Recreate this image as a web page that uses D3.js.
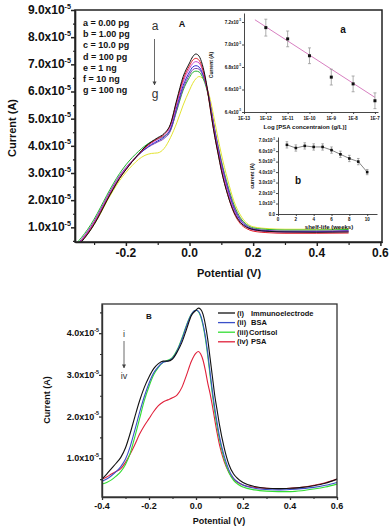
<!DOCTYPE html>
<html><head><meta charset="utf-8">
<script src="https://cdn.jsdelivr.net/npm/d3@7"></script>
<style>body{margin:0;background:#fff}svg{display:block}text{font-family:"Liberation Sans",Arial,sans-serif;fill:#111}</style>
</head><body>
<svg id="c" width="392" height="529"></svg>
<script>
// ---------- DATA (currents in units of 1e-5 A) ----------
const potA = [-0.36,-0.34,-0.32,-0.30,-0.28,-0.26,-0.24,-0.22,-0.20,-0.18,-0.16,-0.14,-0.12,-0.10,-0.08,-0.06,-0.04,-0.02,0.00,0.01,0.02,0.03,0.04,0.05,0.06,0.07,0.08,0.09,0.10,0.12,0.14,0.16,0.18,0.20,0.25,0.30,0.40,0.50];
const curA_a = [0.2,0.46,0.75,1.1,1.52,1.98,2.4,2.8,3.12,3.42,3.7,3.96,4.15,4.3,4.45,4.8,5.7,6.55,7.05,7.28,7.38,7.3,7.0,6.5,5.8,5.0,4.3,3.7,3.1,2.2,1.55,1.18,1.0,0.92,0.85,0.83,0.82,0.83];
const curA_b = [0.2,0.48,0.78,1.13,1.55,2.0,2.42,2.8,3.12,3.42,3.68,3.93,4.12,4.27,4.42,4.78,5.65,6.45,6.95,7.15,7.22,7.15,6.88,6.42,5.76,5.0,4.3,3.7,3.12,2.2,1.52,1.13,0.95,0.86,0.8,0.78,0.78,0.79];
const curA_c = [0.25,0.52,0.82,1.18,1.6,2.05,2.47,2.85,3.17,3.45,3.7,3.93,4.1,4.24,4.38,4.7,5.55,6.35,6.85,7.03,7.1,7.05,6.82,6.42,5.85,5.12,4.42,3.82,3.25,2.32,1.62,1.2,1.0,0.9,0.84,0.82,0.82,0.84];
const curA_d = [0.25,0.5,0.8,1.15,1.58,2.03,2.45,2.83,3.15,3.43,3.67,3.88,4.05,4.18,4.32,4.62,5.45,6.22,6.72,6.9,6.95,6.9,6.7,6.35,5.82,5.15,4.48,3.88,3.32,2.4,1.68,1.25,1.03,0.92,0.86,0.84,0.84,0.86];
const curA_e = [0.3,0.55,0.86,1.22,1.65,2.1,2.52,2.9,3.2,3.46,3.68,3.87,4.02,4.14,4.27,4.55,5.35,6.12,6.62,6.8,6.85,6.82,6.64,6.32,5.85,5.22,4.55,3.95,3.4,2.48,1.75,1.3,1.06,0.95,0.88,0.86,0.86,0.88];
const curA_f = [0.35,0.62,0.93,1.3,1.73,2.18,2.6,2.98,3.3,3.57,3.8,4.0,4.15,4.25,4.35,4.58,5.3,6.05,6.52,6.7,6.75,6.72,6.55,6.25,5.8,5.2,4.55,3.98,3.45,2.55,1.82,1.35,1.1,0.98,0.92,0.9,0.9,0.92];
const curA_g = [0.25,0.48,0.76,1.1,1.5,1.95,2.35,2.72,3.02,3.28,3.5,3.65,3.72,3.74,3.9,4.3,4.85,5.5,6.05,6.3,6.47,6.55,6.5,6.3,5.95,5.45,4.85,4.25,3.7,2.75,1.95,1.45,1.15,1.02,0.95,0.93,0.93,0.95];
const seriesA = [curA_a,curA_b,curA_c,curA_d,curA_e,curA_f,curA_g];
const colorsA = ["#111111","#e0202a","#cc44cc","#2a2ad0","#7a3fb0","#22b030","#e4e430"];
const legendA = ["a = 0.00 pg","b = 1.00 pg","c = 10.0 pg","d = 100 pg","e = 1 ng","f = 10 ng","g = 100 ng"];
const yTicksA = [1,2,3,4,5,6,7,8,9];
const xTicksA = [-0.2,0.0,0.2,0.4,0.6];

// inset a: calibration
const concA = [1e-12,1e-11,1e-10,1e-9,1e-8,1e-7];
const calCur = [7.15,7.05,6.90,6.71,6.65,6.50];
const calErr = [0.075,0.07,0.07,0.07,0.07,0.07];
const fitConc = [Math.pow(10,-12.5),1e-7];
const fitCur = [7.22,6.53];
const insetAYTicks = [6.4,6.6,6.8,7.0,7.2];
const insetAXTicks = [1e-13,1e-12,1e-11,1e-10,1e-9,1e-8,1e-7];
const insetAXLabels = ["1E-13","1E-12","1E-11","1E-10","1E-9","1E-8","1E-7"];

// inset b: shelf life
const weeks = [1,2,3,4,5,6,7,8,9,10];
const shelfCur = [6.6,6.3,6.5,6.4,6.4,6.1,5.7,5.3,5.0,4.0];
const shelfErr = [0.3,0.3,0.3,0.3,0.3,0.3,0.3,0.3,0.3,0.25];
const insetBYTicks = [0,1,2,3,4,5,6,7];
const insetBXTicks = [0,2,4,6,8,10];

// panel B
const potB = [-0.40,-0.38,-0.36,-0.34,-0.32,-0.30,-0.28,-0.26,-0.24,-0.22,-0.20,-0.18,-0.16,-0.14,-0.12,-0.10,-0.08,-0.06,-0.04,-0.02,0.00,0.01,0.02,0.03,0.04,0.05,0.06,0.07,0.08,0.09,0.10,0.12,0.14,0.16,0.18,0.20,0.25,0.30,0.35,0.40,0.45,0.50,0.55,0.60];
const curB_i = [0.5,0.62,0.75,0.88,1.02,1.25,1.6,2.0,2.38,2.7,2.95,3.15,3.27,3.33,3.33,3.38,3.55,3.78,4.1,4.42,4.55,4.6,4.57,4.45,4.2,3.85,3.4,2.95,2.5,2.15,1.8,1.25,0.85,0.62,0.5,0.42,0.32,0.28,0.27,0.28,0.3,0.34,0.4,0.5];
const curB_ii = [0.45,0.5,0.58,0.68,0.8,0.98,1.28,1.68,2.1,2.48,2.8,3.05,3.2,3.3,3.33,3.4,3.58,3.85,4.18,4.45,4.55,4.53,4.42,4.22,3.92,3.52,3.05,2.6,2.2,1.85,1.52,1.05,0.72,0.52,0.42,0.36,0.28,0.25,0.24,0.25,0.27,0.3,0.35,0.42];
const curB_iii = [0.38,0.42,0.48,0.57,0.68,0.85,1.12,1.52,1.95,2.38,2.72,3.0,3.18,3.3,3.35,3.42,3.6,3.88,4.2,4.45,4.55,4.52,4.4,4.18,3.86,3.45,2.98,2.52,2.1,1.75,1.45,0.98,0.66,0.47,0.37,0.31,0.24,0.21,0.2,0.2,0.22,0.26,0.31,0.38];
const curB_iv = [0.5,0.55,0.62,0.68,0.75,0.9,1.1,1.33,1.58,1.78,1.95,2.12,2.26,2.35,2.4,2.45,2.52,2.7,3.0,3.32,3.52,3.56,3.5,3.35,3.1,2.8,2.55,2.25,1.92,1.6,1.32,0.92,0.66,0.5,0.41,0.36,0.3,0.28,0.27,0.28,0.3,0.35,0.41,0.5];
const seriesB = [curB_i,curB_ii,curB_iii,curB_iv];
const colorsB = ["#111111","#3a4fc8","#33dd33","#e0203a"];
const legendRoman = ["(i)","(ii)","(iii)","(iv)"];
const legendNames = ["Immunoelectrode","BSA","Cortisol","PSA"];
const yTicksB = [1,2,3,4];
const xTicksB = [-0.4,-0.2,0.0,0.2,0.4,0.6];

// ---------- DRAW ----------
const svg = d3.select("#c");
const FONT_BOLD = "bold";

function sci(g, x, y, main, fs, anchor) {
  const t = g.append("text").attr("x",x).attr("y",y).attr("text-anchor",anchor||"end")
    .attr("font-size",fs).attr("font-weight",FONT_BOLD);
  t.append("tspan").text(main);
  t.append("tspan").attr("dy",-fs*0.45).attr("font-size",fs*0.6).text("-5");
  return t;
}
function styleAxis(g, w, col) {
  g.selectAll("path.domain").attr("stroke", col||"#222").attr("stroke-width", w);
  g.selectAll(".tick line").attr("stroke", col||"#222").attr("stroke-width", w);
}

// ===== Panel A =====
const xA = d3.scaleLinear().domain([-0.36,0.605]).range([75,382]);
const yA = d3.scaleLinear().domain([0.46,9.0]).range([242,10]);
svg.append("clipPath").attr("id","clipA").append("rect").attr("x",75).attr("y",10).attr("width",307).attr("height",232);

const lineA = d3.line().x((d,i)=>xA(potA[i])).y(d=>yA(d)).curve(d3.curveMonotoneX);
const gA = svg.append("g").attr("clip-path","url(#clipA)");
seriesA.slice().reverse().forEach((s,k)=>{
  const i = seriesA.length-1-k;
  gA.append("path").attr("d",lineA(s)).attr("fill","none").attr("stroke",colorsA[i]).attr("stroke-width",1);
});

// axes A
const axYA = svg.append("g").attr("transform","translate(75,0)")
  .call(d3.axisLeft(yA).tickValues(yTicksA).tickSize(4).tickSizeOuter(0).tickFormat(""));
styleAxis(axYA,1.5);
const axYAm = svg.append("g").attr("transform","translate(75,0)")
  .call(d3.axisLeft(yA).tickValues(d3.range(0.5,9,1)).tickSize(2).tickSizeOuter(0).tickFormat(""));
styleAxis(axYAm,1.2);
const axXA = svg.append("g").attr("transform","translate(0,242)")
  .call(d3.axisBottom(xA).tickValues(xTicksA).tickSize(4).tickSizeOuter(0).tickFormat(""));
styleAxis(axXA,1.5);
const axXAm = svg.append("g").attr("transform","translate(0,242)")
  .call(d3.axisBottom(xA).tickValues([-0.3,-0.1,0.1,0.3,0.5]).tickSize(3).tickSizeOuter(0).tickFormat(""));
styleAxis(axXAm,1.2);
svg.append("rect").attr("x",75).attr("y",10).attr("width",307).attr("height",232)
  .attr("fill","none").attr("stroke","#222").attr("stroke-width",1.5);

yTicksA.forEach(v=>sci(svg,71,yA(v)+4,v.toFixed(1)+"x10",12,"end"));
xTicksA.forEach(v=>svg.append("text").attr("x",xA(v)).attr("y",257).attr("text-anchor","middle")
  .attr("font-size",12).attr("font-weight",FONT_BOLD).text(v.toFixed(1)));
svg.append("text").attr("x",229).attr("y",277).attr("text-anchor","middle").attr("font-size",11)
  .attr("font-weight",FONT_BOLD).text("Potential (V)");
svg.append("text").attr("transform","translate(16,128) rotate(-90)").attr("text-anchor","middle")
  .attr("font-size",11).attr("font-weight",FONT_BOLD).text("Current (A)");

legendA.forEach((t,i)=>svg.append("text").attr("x",83).attr("y",26+i*11.17).attr("font-size",9)
  .attr("font-weight",FONT_BOLD).text(t));
svg.append("text").attr("x",155).attr("y",30).attr("text-anchor","middle").attr("font-size",12).style("fill","#333").text("a");
svg.append("text").attr("x",155).attr("y",98).attr("text-anchor","middle").attr("font-size",12).style("fill","#333").text("g");
const defs = svg.append("defs");
defs.append("marker").attr("id","arr").attr("viewBox","0 0 10 10").attr("refX",9).attr("refY",5)
  .attr("markerWidth",5).attr("markerHeight",6).attr("orient","auto")
  .append("path").attr("d","M0,0L10,5L0,10z").attr("fill","#444");
svg.append("line").attr("x1",154.5).attr("y1",39).attr("x2",154.5).attr("y2",85).attr("stroke","#444")
  .attr("stroke-width",0.8).attr("marker-end","url(#arr)");
svg.append("text").attr("x",182).attr("y",27).attr("text-anchor","middle").attr("font-size",9)
  .attr("font-weight",FONT_BOLD).text("A");

// ===== Inset a =====
const xIa = d3.scaleLog().domain([1e-13,Math.pow(10,-6.86)]).range([244,378]);
const yIa = d3.scaleLinear().domain([6.4,7.28]).range([112,13]);
const axYIa = svg.append("g").attr("transform","translate(244,0)")
  .call(d3.axisLeft(yIa).tickValues(insetAYTicks).tickSize(2).tickSizeOuter(0).tickFormat(""));
styleAxis(axYIa,0.9,"#333");
const axXIa = svg.append("g").attr("transform","translate(0,112)")
  .call(d3.axisBottom(xIa).tickValues(insetAXTicks).tickSize(2).tickSizeOuter(0).tickFormat(""));
styleAxis(axXIa,0.9,"#333");
insetAYTicks.forEach(v=>sci(svg,241,yIa(v)+1.5,v.toFixed(1)+"x10",4.5,"end"));
insetAXTicks.forEach((v,i)=>svg.append("text").attr("x",xIa(v)).attr("y",120).attr("text-anchor","middle")
  .attr("font-size",4.5).attr("font-weight",FONT_BOLD).text(insetAXLabels[i]));
svg.append("text").attr("x",305).attr("y",129).attr("text-anchor","middle").attr("font-size",6)
  .attr("font-weight",FONT_BOLD).text("Log [PSA concentraion (g/L)]");
svg.append("text").attr("transform","translate(213,65) rotate(-90)").attr("text-anchor","middle")
  .attr("font-size",5).attr("font-weight",FONT_BOLD).text("Current (A)");
svg.append("line").attr("x1",xIa(fitConc[0])).attr("y1",yIa(fitCur[0])).attr("x2",xIa(fitConc[1])).attr("y2",yIa(fitCur[1]))
  .attr("stroke","#d77fc0").attr("stroke-width",1);
concA.forEach((c,i)=>{
  const x = xIa(c);
  svg.append("line").attr("x1",x).attr("x2",x).attr("y1",yIa(calCur[i]-calErr[i])).attr("y2",yIa(calCur[i]+calErr[i]))
    .attr("stroke","#999").attr("stroke-width",0.8);
  [calCur[i]-calErr[i],calCur[i]+calErr[i]].forEach(v=>svg.append("line").attr("x1",x-1.5).attr("x2",x+1.5)
    .attr("y1",yIa(v)).attr("y2",yIa(v)).attr("stroke","#999").attr("stroke-width",0.8));
  svg.append("rect").attr("x",x-1.5).attr("y",yIa(calCur[i])-1.5).attr("width",3).attr("height",3).attr("fill","#111");
});
svg.append("text").attr("x",343).attr("y",33).attr("text-anchor","middle").attr("font-size",10)
  .attr("font-weight",FONT_BOLD).text("a");

// ===== Inset b =====
const xIb = d3.scaleLinear().domain([0,11.1]).range([278,377]);
const yIb = d3.scaleLinear().domain([0,7.35]).range([214,137]);
const axYIb = svg.append("g").attr("transform","translate(278,0)")
  .call(d3.axisLeft(yIb).tickValues(insetBYTicks).tickSize(2).tickSizeOuter(0).tickFormat(""));
styleAxis(axYIb,0.9,"#333");
const axXIb = svg.append("g").attr("transform","translate(0,214)")
  .call(d3.axisBottom(xIb).tickValues(insetBXTicks).tickSize(2).tickSizeOuter(0).tickFormat(""));
styleAxis(axXIb,0.9,"#333");
insetBYTicks.forEach(v=>{
  if (v===0) svg.append("text").attr("x",275).attr("y",yIb(v)+1.5).attr("text-anchor","end").attr("font-size",4.5)
    .attr("font-weight",FONT_BOLD).text("0.0");
  else sci(svg,275,yIb(v)+1.5,v.toFixed(1)+"x10",4.5,"end");
});
insetBXTicks.forEach(v=>svg.append("text").attr("x",xIb(v)).attr("y",221).attr("text-anchor","middle")
  .attr("font-size",4.5).attr("font-weight",FONT_BOLD).text(v));
svg.append("text").attr("x",329).attr("y",229).attr("text-anchor","middle").attr("font-size",6)
  .attr("font-weight",FONT_BOLD).text("shelf-life (weeks)");
svg.append("text").attr("transform","translate(254,176) rotate(-90)").attr("text-anchor","middle")
  .attr("font-size",5).attr("font-weight",FONT_BOLD).text("current (A)");
svg.append("path").attr("d",d3.line().x((d,i)=>xIb(weeks[i])).y(d=>yIb(d))(shelfCur))
  .attr("fill","none").attr("stroke","#777").attr("stroke-width",0.9);
weeks.forEach((w,i)=>{
  const x = xIb(w);
  svg.append("line").attr("x1",x).attr("x2",x).attr("y1",yIb(shelfCur[i]-shelfErr[i])).attr("y2",yIb(shelfCur[i]+shelfErr[i]))
    .attr("stroke","#888").attr("stroke-width",0.7);
  [shelfCur[i]-shelfErr[i],shelfCur[i]+shelfErr[i]].forEach(v=>svg.append("line").attr("x1",x-1.3).attr("x2",x+1.3)
    .attr("y1",yIb(v)).attr("y2",yIb(v)).attr("stroke","#888").attr("stroke-width",0.7));
  svg.append("rect").attr("x",x-1.3).attr("y",yIb(shelfCur[i])-1.3).attr("width",2.6).attr("height",2.6).attr("fill","#111");
});
svg.append("text").attr("x",298).attr("y",184).attr("text-anchor","middle").attr("font-size",10)
  .attr("font-weight",FONT_BOLD).text("b");

// ===== Panel B =====
const xB = d3.scaleLinear().domain([-0.4,0.6]).range([102,337]);
const yB = d3.scaleLinear().domain([0.07,4.7]).range([497,304]);
svg.append("clipPath").attr("id","clipB").append("rect").attr("x",102).attr("y",304).attr("width",235).attr("height",193);
const lineB = d3.line().x((d,i)=>xB(potB[i])).y(d=>yB(d)).curve(d3.curveMonotoneX);
const gB = svg.append("g").attr("clip-path","url(#clipB)");
[3,2,1,0].forEach(i=>gB.append("path").attr("d",lineB(seriesB[i])).attr("fill","none")
  .attr("stroke",colorsB[i]).attr("stroke-width",1.1));

const axYB = svg.append("g").attr("transform","translate(102,0)")
  .call(d3.axisLeft(yB).tickValues(yTicksB).tickSize(3).tickSizeOuter(0).tickFormat(""));
styleAxis(axYB,1.3,"#333");
const axYBm = svg.append("g").attr("transform","translate(102,0)")
  .call(d3.axisLeft(yB).tickValues([0.5,1.5,2.5,3.5,4.5]).tickSize(2).tickSizeOuter(0).tickFormat(""));
styleAxis(axYBm,1.1,"#333");
const axXB = svg.append("g").attr("transform","translate(0,497)")
  .call(d3.axisBottom(xB).tickValues(xTicksB).tickSize(3).tickSizeOuter(0).tickFormat(""));
styleAxis(axXB,1.3,"#333");
const axXBm = svg.append("g").attr("transform","translate(0,497)")
  .call(d3.axisBottom(xB).tickValues([-0.3,-0.1,0.1,0.3,0.5]).tickSize(2).tickSizeOuter(0).tickFormat(""));
styleAxis(axXBm,1.1,"#333");
svg.append("rect").attr("x",102).attr("y",304).attr("width",235).attr("height",193)
  .attr("fill","none").attr("stroke","#333").attr("stroke-width",1.3);

yTicksB.forEach(v=>sci(svg,99,yB(v)+3,v.toFixed(1)+"x10",9,"end"));
xTicksB.forEach(v=>svg.append("text").attr("x",xB(v)).attr("y",509).attr("text-anchor","middle")
  .attr("font-size",9).attr("font-weight",FONT_BOLD).text(v.toFixed(1)));
svg.append("text").attr("x",219).attr("y",524).attr("text-anchor","middle").attr("font-size",9)
  .attr("font-weight",FONT_BOLD).text("Potential (V)");
svg.append("text").attr("transform","translate(50,400) rotate(-90)").attr("text-anchor","middle")
  .attr("font-size",9).attr("font-weight",FONT_BOLD).text("Current (A)");

legendRoman.forEach((r,i)=>{
  const y = 313+i*9.6;
  svg.append("line").attr("x1",218).attr("x2",235).attr("y1",y).attr("y2",y).attr("stroke",colorsB[i]).attr("stroke-width",1.3);
  svg.append("text").attr("x",237).attr("y",y+2.6).attr("font-size",7.5).attr("font-weight",FONT_BOLD).text(r);
  svg.append("text").attr("x",i===2?249:251).attr("y",y+2.6).attr("font-size",7.5).attr("font-weight",FONT_BOLD).text(legendNames[i]);
});
svg.append("text").attr("x",149).attr("y",319).attr("text-anchor","middle").attr("font-size",8)
  .attr("font-weight",FONT_BOLD).text("B");
svg.append("text").attr("x",124).attr("y",337).attr("text-anchor","middle").attr("font-size",9).style("fill","#333").text("i");
svg.append("line").attr("x1",124).attr("y1",341).attr("x2",124).attr("y2",368).attr("stroke","#444")
  .attr("stroke-width",0.8).attr("marker-end","url(#arr)");
svg.append("text").attr("x",124).attr("y",379).attr("text-anchor","middle").attr("font-size",9).style("fill","#333").text("iv");
</script>
</body></html>
